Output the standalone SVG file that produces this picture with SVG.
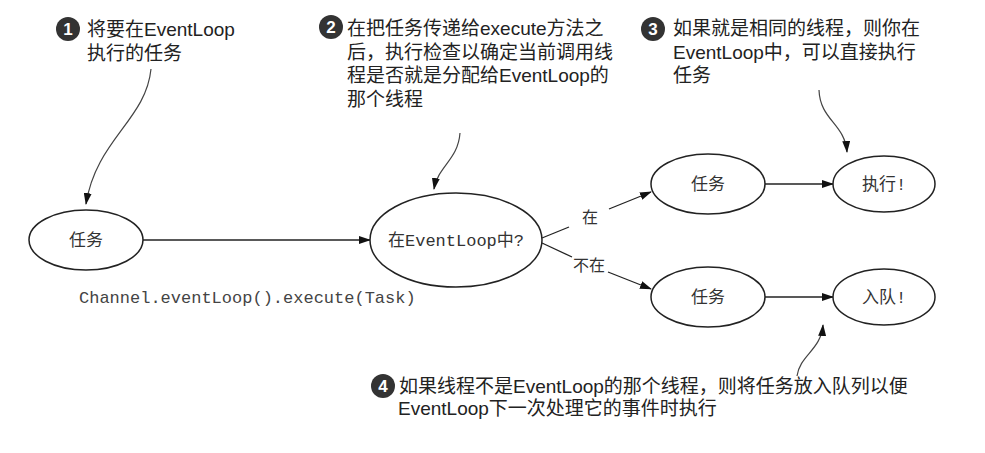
<svg xmlns="http://www.w3.org/2000/svg" width="985" height="453" viewBox="0 0 985 453">
<defs>
<style>
.node{fill:#fff;stroke:#222;stroke-width:1.5}
.nt{font-family:"Liberation Mono","Noto Sans CJK SC",monospace;font-size:17px;fill:#333;text-anchor:middle}
.ann{font-family:"Liberation Sans","Noto Sans CJK SC",sans-serif;font-size:19px;fill:#222}
.num{font-family:"Liberation Sans",sans-serif;font-size:17px;font-weight:bold;fill:#fff;text-anchor:middle}
.badge{fill:#333}
.edge{fill:none;stroke:#222;stroke-width:1.3}
.call{fill:none;stroke:#444;stroke-width:1.2}
.code{font-family:"Liberation Mono",monospace;font-size:17px;fill:#444}
.lbl{font-family:"Noto Sans CJK SC",sans-serif;font-size:16px;fill:#333;text-anchor:middle}
</style>
<marker id="ah" markerUnits="userSpaceOnUse" markerWidth="12" markerHeight="8" refX="11" refY="4" orient="auto">
<path d="M0,0 L12,4 L0,8 z" fill="#111"/>
</marker>
</defs>
<rect width="985" height="453" fill="#fff"/>

<g id="connectors">
<line class="edge" x1="143" y1="240" x2="370" y2="240" marker-end="url(#ah)"/>
<line class="edge" x1="542" y1="238" x2="569" y2="227"/>
<line class="edge" x1="609" y1="209" x2="651" y2="192" marker-end="url(#ah)"/>
<line class="edge" x1="542" y1="243" x2="572" y2="257"/>
<line class="edge" x1="608" y1="272" x2="651" y2="289" marker-end="url(#ah)"/>
<line class="edge" x1="765" y1="184" x2="833" y2="184" marker-end="url(#ah)"/>
<line class="edge" x1="765" y1="297" x2="833" y2="297" marker-end="url(#ah)"/>
<text class="lbl" x="590" y="223">在</text>
<text class="lbl" x="589" y="271">不在</text>
<path class="call" d="M151,69 C146,120 96,140 86,204" marker-end="url(#ah)"/>
<path class="call" d="M460,133 C458,160 438,166 434,189" marker-end="url(#ah)"/>
<path class="call" d="M819,90 C820,120 845,124 847,152" marker-end="url(#ah)"/>
<path class="call" d="M797,376 C800,355 821,350 823,325" marker-end="url(#ah)"/>
</g>

<g id="task">
<ellipse class="node" cx="86" cy="240" rx="57" ry="30"/>
<text class="nt" x="86" y="246">任务</text>
</g>
<text class="code" x="79" y="303">Channel.eventLoop().execute(Task)</text>

<g id="check">
<ellipse class="node" cx="456" cy="240" rx="86" ry="47"/>
<text class="nt" x="456" y="246">在EventLoop中?</text>
</g>

<g id="task-in">
<ellipse class="node" cx="708" cy="184" rx="57" ry="30"/>
<text class="nt" x="708" y="190">任务</text>
</g>
<g id="execute">
<ellipse class="node" cx="884" cy="184" rx="51" ry="28"/>
<text class="nt" x="884" y="190">执行!</text>
</g>
<g id="task-out">
<ellipse class="node" cx="708" cy="297" rx="57" ry="30"/>
<text class="nt" x="708" y="303">任务</text>
</g>
<g id="enqueue">
<ellipse class="node" cx="884" cy="297" rx="51" ry="28"/>
<text class="nt" x="884" y="303">入队!</text>
</g>

<g id="note1">
<circle class="badge" cx="68" cy="29" r="12"/>
<text class="num" x="68" y="35">1</text>
<text class="ann" x="87" y="36">将要在EventLoop</text>
<text class="ann" x="87" y="60">执行的任务</text>
</g>
<g id="note2">
<circle class="badge" cx="331" cy="27" r="12"/>
<text class="num" x="331" y="33">2</text>
<text class="ann" x="347" y="35">在把任务传递给execute方法之</text>
<text class="ann" x="347" y="59">后，执行检查以确定当前调用线</text>
<text class="ann" x="347" y="82">程是否就是分配给EventLoop的</text>
<text class="ann" x="347" y="106">那个线程</text>
</g>
<g id="note3">
<circle class="badge" cx="653" cy="29" r="12"/>
<text class="num" x="653" y="35">3</text>
<text class="ann" x="673" y="35">如果就是相同的线程，则你在</text>
<text class="ann" x="673" y="59">EventLoop中，可以直接执行</text>
<text class="ann" x="673" y="82">任务</text>
</g>
<g id="note4">
<circle class="badge" cx="383" cy="386" r="12"/>
<text class="num" x="383" y="392">4</text>
<text class="ann" x="399" y="393">如果线程不是EventLoop的那个线程，则将任务放入队列以便</text>
<text class="ann" x="398" y="415">EventLoop下一次处理它的事件时执行</text>
</g>
</svg>
